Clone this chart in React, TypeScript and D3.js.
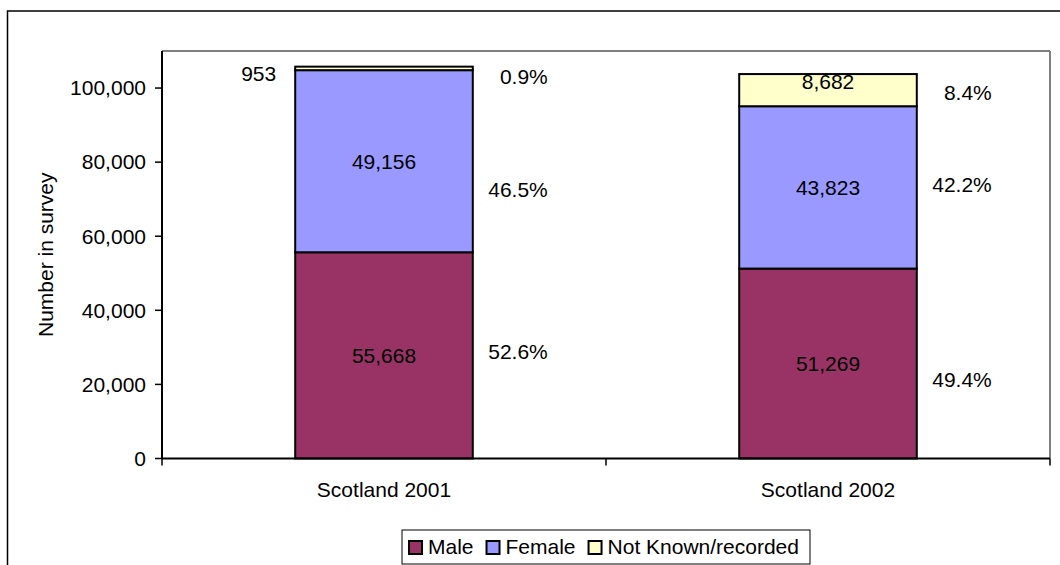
import React, { useMemo } from "react";
import * as d3 from "d3";

// Survey counts by gender, stacked per survey year
const categories = ["Scotland 2001", "Scotland 2002"];
const seriesNames = ["Male", "Female", "Not Known/recorded"];
const maleCounts = [55668, 51269];
const femaleCounts = [49156, 43823];
const notKnownCounts = [953, 8682];
const seriesColors = ["#993366", "#9999FF", "#FFFFCC"];
const yTickValues = [0, 20000, 40000, 60000, 80000, 100000];
const yAxisTitle = "Number in survey";
// Where each share-of-total label sits, in survey counts (Male, Female, Not Known)
const shareLabelAnchors2001 = [28750, 72500, 103000];
const shareLabelAnchors2002 = [21200, 73800, 98700];

const WIDTH = 1060;
const HEIGHT = 565;
const FONT = "'Liberation Sans', Arial, Helvetica, sans-serif";
const FONT_SIZE = 21;

const plot = { left: 162, right: 1050, top: 51, bottom: 458.5 };

function measure(text: string): number {
  if (typeof document === "undefined") return text.length * FONT_SIZE * 0.55;
  const canvas = document.createElement("canvas");
  const ctx = canvas.getContext("2d");
  if (!ctx) return text.length * FONT_SIZE * 0.55;
  ctx.font = `${FONT_SIZE}px ${FONT}`;
  return ctx.measureText(text).width;
}

export default function App() {
  const rows = categories.map((c, i) => ({
    category: c,
    Male: maleCounts[i],
    Female: femaleCounts[i],
    "Not Known/recorded": notKnownCounts[i],
  }));
  const totals = rows.map((r, i) => maleCounts[i] + femaleCounts[i] + notKnownCounts[i]);
  const shareAnchors = [shareLabelAnchors2001, shareLabelAnchors2002];

  const stacked = d3.stack<any>().keys(seriesNames)(rows);

  const x = d3
    .scaleBand<string>()
    .domain(categories)
    .range([plot.left, plot.right])
    .paddingInner(0.6)
    .paddingOuter(0.3);
  const y = d3.scaleLinear().domain([0, 110000]).range([plot.bottom, plot.top]);
  const color = d3.scaleOrdinal<string, string>().domain(seriesNames).range(seriesColors);
  const fmt = d3.format(",");
  const pct = d3.format(".1f");

  const step = x.step();
  const bandEdges = [
    plot.left,
    ...categories.map((c) => (x(c) as number) + x.bandwidth() / 2 + step / 2),
  ];

  const legend = useMemo(() => {
    const swatch = 15;
    const gapText = 5;
    const gapItem = 12;
    const padL = 6;
    const padR = 11;
    let cursor = padL;
    const items = seriesNames.map((name) => {
      const w = measure(name);
      const item = { name, x: cursor, textX: cursor + swatch + gapText };
      cursor += swatch + gapText + w + gapItem;
      return item;
    });
    const width = cursor - gapItem + padR;
    return { items, width };
  }, []);
  const legendX = (plot.left + plot.right) / 2 - legend.width / 2;
  const legendY = 530;

  return (
    <svg
      width={WIDTH}
      height={HEIGHT}
      style={{ position: "absolute", left: 0, top: 0, background: "#fff" }}
      fontFamily={FONT}
      fontSize={FONT_SIZE}
    >
      <rect x={0} y={0} width={WIDTH} height={HEIGHT} fill="#fff" />
      {/* chart frame */}
      <rect x={7.5} y={11} width={WIDTH + 20} height={HEIGHT + 20} fill="none" stroke="#000" strokeWidth={1.5} />

      {/* plot area border */}
      <line x1={plot.left} x2={plot.right} y1={plot.top} y2={plot.top} stroke="#808080" strokeWidth={2} />
      <line x1={plot.right} x2={plot.right} y1={plot.top} y2={plot.bottom} stroke="#808080" strokeWidth={2} />

      {/* bars */}
      {stacked.map((layer, si) => (
        <g key={layer.key}>
          {layer.map((d, ci) => (
            <rect
              key={ci}
              x={x(categories[ci])}
              y={y(d[1])}
              width={x.bandwidth()}
              height={y(d[0]) - y(d[1])}
              fill={color(layer.key)}
              stroke="#000"
              strokeWidth={2}
            />
          ))}
        </g>
      ))}

      {/* value labels */}
      {stacked.map((layer, si) =>
        layer.map((d, ci) => {
          const top = y(d[1]);
          const bottom = y(d[0]);
          const h = bottom - top;
          const bx = x(categories[ci]) as number;
          const value = d[1] - d[0];
          const isTop = si === seriesNames.length - 1;
          if (h < 12) {
            return (
              <text key={`v${si}-${ci}`} x={bx - 19} y={top + 7.5} dy="0.35em" textAnchor="end" fill="#000">
                {fmt(value)}
              </text>
            );
          }
          const cy = isTop ? top + 8 : (top + bottom) / 2;
          return (
            <text
              key={`v${si}-${ci}`}
              x={bx + x.bandwidth() / 2}
              y={cy}
              dy="0.35em"
              textAnchor="middle"
              fill="#000"
            >
              {fmt(value)}
            </text>
          );
        })
      )}

      {/* share-of-total labels */}
      {stacked.map((layer, si) =>
        layer.map((d, ci) => {
          const bx = (x(categories[ci]) as number) + x.bandwidth();
          const value = d[1] - d[0];
          return (
            <text
              key={`p${si}-${ci}`}
              x={bx + 75}
              y={y(shareAnchors[ci][si])}
              dy="0.35em"
              textAnchor="end"
              fill="#000"
            >
              {pct((value / totals[ci]) * 100)}%
            </text>
          );
        })
      )}

      {/* y axis */}
      <line x1={plot.left} x2={plot.left} y1={plot.top} y2={plot.bottom + 0.5} stroke="#000" strokeWidth={2} />
      {yTickValues.map((t) => (
        <g key={t} transform={`translate(0,${y(t)})`}>
          <line x1={plot.left - 7} x2={plot.left} stroke="#000" strokeWidth={1.5} />
          <text x={plot.left - 16} dy="0.35em" textAnchor="end" fill="#000">
            {fmt(t)}
          </text>
        </g>
      ))}
      <text
        transform={`translate(53,${(plot.top + plot.bottom) / 2}) rotate(-90)`}
        textAnchor="middle"
        fill="#000"
      >
        {yAxisTitle}
      </text>

      {/* x axis */}
      <line x1={plot.left} x2={plot.right} y1={plot.bottom} y2={plot.bottom} stroke="#000" strokeWidth={2} />
      {bandEdges.map((bx, i) => (
        <line key={i} x1={bx} x2={bx} y1={plot.bottom} y2={plot.bottom + 7} stroke="#000" strokeWidth={1.5} />
      ))}
      {categories.map((c) => (
        <text key={c} x={(x(c) as number) + x.bandwidth() / 2} y={497} textAnchor="middle" fill="#000">
          {c}
        </text>
      ))}

      {/* legend */}
      <g transform={`translate(${legendX},${legendY})`}>
        <rect x={0} y={0} width={legend.width} height={34} fill="#fff" stroke="#000" strokeWidth={1} />
        {legend.items.map((it) => (
          <g key={it.name}>
            <rect x={it.x + 1} y={11} width={13} height={13} fill={color(it.name)} stroke="#000" strokeWidth={2} />
            <text x={it.textX} y={24} fill="#000">
              {it.name}
            </text>
          </g>
        ))}
      </g>
    </svg>
  );
}
